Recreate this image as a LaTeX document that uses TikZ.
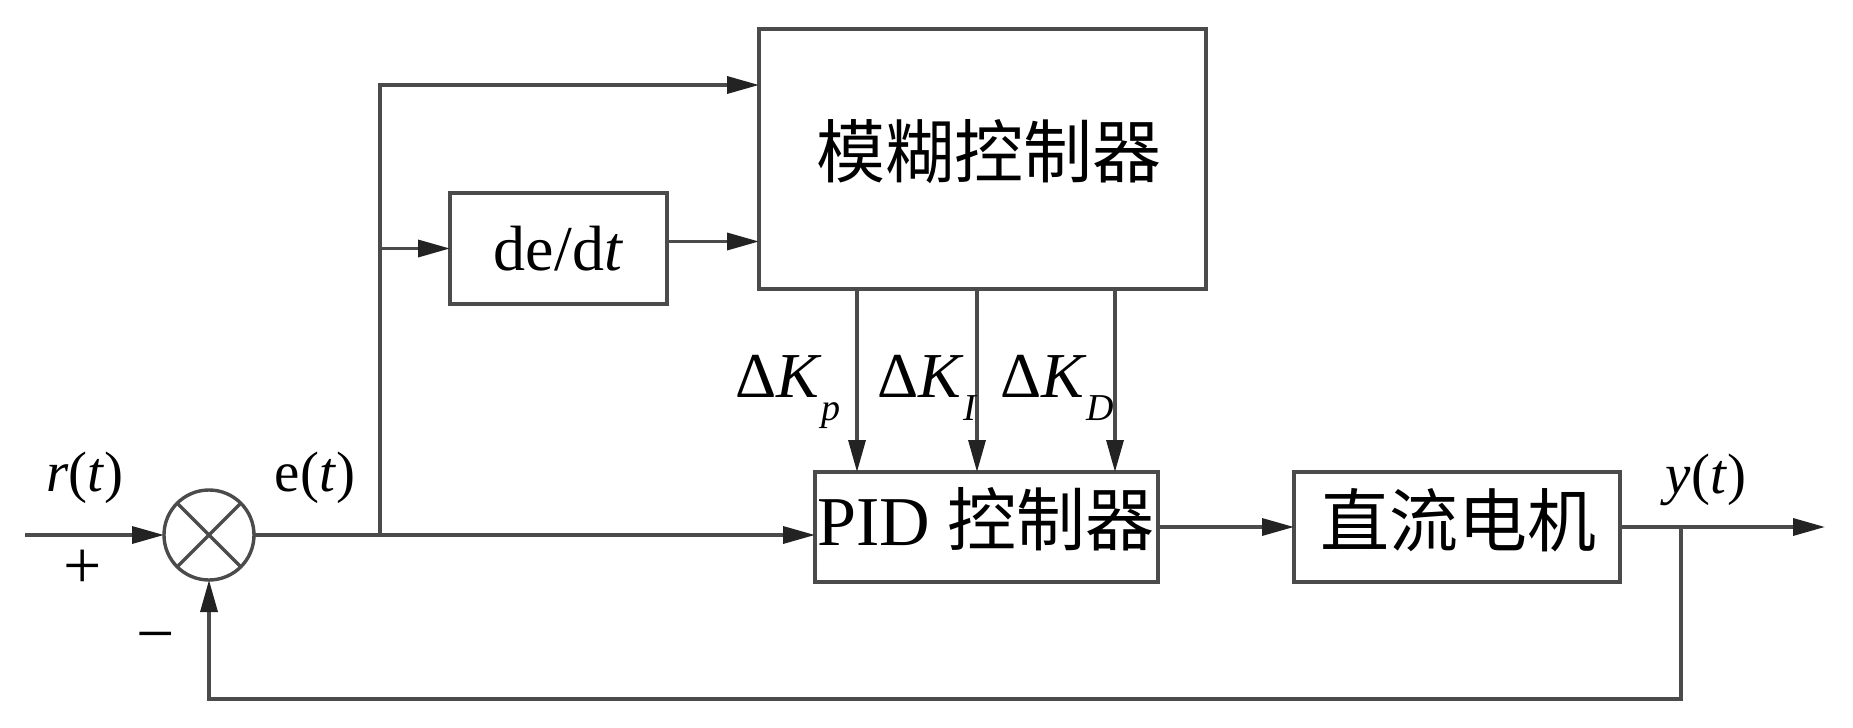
\documentclass[tikz,border=0pt]{standalone}
\usepackage{fontspec}
\setmainfont{Liberation Serif}
\newfontfamily\cjk{Noto Sans CJK SC}
\usetikzlibrary{arrows.meta}
\definecolor{linecol}{RGB}{75,75,75}
\definecolor{tipcol}{RGB}{35,35,35}
\tikzset{
  blk/.style={draw=linecol, line width=1.7pt, rectangle, inner sep=0pt, outer sep=0pt},
  ln/.style={draw=linecol, line width=1.7pt},
  arr/.style={draw=linecol, line width=1.7pt, -{Triangle[length=16pt,width=8.5pt,color=tipcol]}},
  lbl/.style={inner sep=0pt, outer sep=0pt, anchor=base, font=\fontsize{28.5}{28.5}\selectfont},
  sgn/.style={inner sep=0pt, outer sep=0pt, font=\fontsize{34}{34}\selectfont},
  klbl/.style={inner sep=0pt, outer sep=0pt, anchor=base west, font=\fontsize{32}{32}\selectfont},
  cjktxt/.style={inner sep=0pt, outer sep=0pt, anchor=base, font=\cjk\fontsize{34.5}{34.5}\selectfont},
}
\newcommand{\subl}[1]{\raisebox{-11.5pt}{\fontsize{19}{19}\selectfont\textit{#1}}}
\begin{document}
\begin{tikzpicture}[x=0.5pt,y=-0.5pt]
\useasboundingbox[fill=white] (0,0) rectangle (1853,728);

% blocks
\node[blk, minimum width=223.5pt, minimum height=130pt] (fuzzy) at (982.5,159) {};
\node[cjktxt] (fuzzyt) at (989,177) {模糊控制器};
\node[blk, minimum width=108.5pt, minimum height=55.5pt, font=\fontsize{32}{32}\selectfont] (dedt) at (558.5,248.5) {de/d\textit{t}};
\node[blk, minimum width=171.5pt, minimum height=55pt] (pid) at (986.5,527) {};
\node[inner sep=0pt, outer sep=0pt, anchor=base] (pidt) at (986,545) {\fontsize{35}{35}\selectfont PID {\cjk\fontsize{34.5}{34.5}\selectfont 控制器}};
\node[blk, minimum width=163pt, minimum height=55pt] (motor) at (1457,527) {};
\node[cjktxt] (motort) at (1458.5,546) {直流电机};

% summing junction
\node[circle, draw=linecol, line width=1.7pt, minimum size=45pt, inner sep=0pt, outer sep=0pt] (sum) at (209,535) {};
\draw[ln] (sum.45) -- (sum.225);
\draw[ln] (sum.135) -- (sum.-45);

% coordinates
\coordinate (in) at (25,535);
\coordinate (br) at (380,535);
\coordinate (tapA) at (380,85);
\coordinate (tapB) at (380,248.5);
\coordinate (kp) at (857,0);
\coordinate (ki) at (977,0);
\coordinate (kd) at (1115,0);
\coordinate (out) at (1825,527);
\coordinate (fb) at (1681,527);
\coordinate (fbb) at (1681,699);

% connectors
\draw[arr] (in) -- (sum.west);
\draw[arr] (sum.east) -- (sum.east -| pid.west);
\draw[arr] (br) -- (tapA) -- (tapA -| fuzzy.west);
\draw[arr] (tapB) -- (dedt.west);
\draw[arr] ([yshift=3.5pt]dedt.east) -- ([yshift=3.5pt]dedt.east -| fuzzy.west);
\draw[arr] (kp |- fuzzy.south) -- (kp |- pid.north);
\draw[arr] (ki |- fuzzy.south) -- (ki |- pid.north);
\draw[arr] (kd |- fuzzy.south) -- (kd |- pid.north);
\draw[arr] (pid.east) -- (motor.west);
\draw[arr] (motor.east) -- (out);
\draw[arr] (fb) -- (fbb) -| (sum.south);

% labels
\node[lbl] (rt) at (85,491) {\textit{r}(\textit{t})};
\node[lbl] (et) at (315,491) {e(\textit{t})};
\node[lbl] (yt) at (1706,493) {\textit{y}(\textit{t})};
\node[sgn] (plus) at (83,569) {+};
\node[sgn] (minus) at (156,644) {−};
\node[klbl] (lkp) at (735,397) {Δ\textit{K}\subl{p}};
\node[klbl] (lki) at (877,397) {Δ\textit{K}\subl{I}};
\node[klbl] (lkd) at (1000,397) {Δ\textit{K}\subl{D}};
\end{tikzpicture}
\end{document}
